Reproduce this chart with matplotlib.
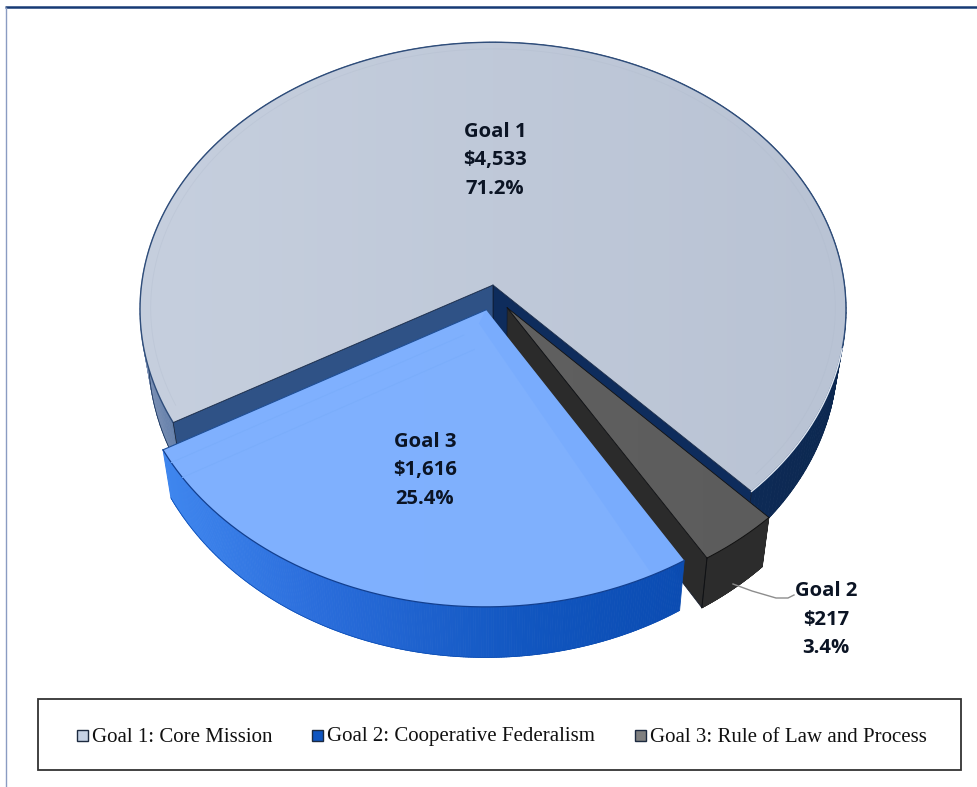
import numpy as np
import matplotlib
matplotlib.use("Agg")
import matplotlib.pyplot as plt
from matplotlib.colors import LinearSegmentedColormap
from matplotlib.patches import Polygon, Rectangle
from matplotlib.collections import PolyCollection

# Dollar amounts per goal, in pie order (clockwise)
goals = ["Goal 1", "Goal 2", "Goal 3"]
amounts = [4533, 217, 1616]
amount_labels = ["$4,533", "$217", "$1,616"]
share_labels = ["71.2%", "3.4%", "25.4%"]
legend_labels = [
    "Goal 1: Core Mission",
    "Goal 2: Cooperative Federalism",
    "Goal 3: Rule of Law and Process",
]

# Perspective set-up for the tilted disc, all in pixels
CX, CY = 493, 285
SCALE_X, SCALE_Y = 351.5, 265
TILT = 0.0916
DEPTH = 45.5
FLOOR_SHRINK = 0.976
START_ANGLE = 240.3


def project(u, v, lower=False):
    # disc coordinates -> pixel coordinates
    w = 1 + TILT * v
    x = CX + SCALE_X * u / w
    y = CY - SCALE_Y * v / w
    if lower:
        x = CX + (x - CX) * FLOOR_SHRINK
        y = y + DEPTH / w
    return x, y


def rim(a0, a1, offset=(0, 0), n=200):
    t = np.radians(np.linspace(a0, a1, n))
    return np.sin(t) + offset[0], np.cos(t) + offset[1]


def on_rim(angle, offset=(0, 0)):
    t = np.radians(angle)
    return np.sin(t) + offset[0], np.cos(t) + offset[1]


def quad(ax, p0, p1, color, z):
    # straight cut wall going from the wedge tip out to the rim
    xa, ya = project(*p0)
    xb, yb = project(*p1)
    xc, yc = project(*p1, lower=True)
    xd, yd = project(*p0, lower=True)
    ax.add_patch(Polygon([(xa, ya), (xb, yb), (xc, yc), (xd, yd)], closed=True,
                         fc=color, ec="#101a2c", lw=0.5, zorder=z))


def outer_wall(ax, a0, a1, offset, colors, stops, z):
    # curved outside wall, as thin strips shaded across the pixel width
    u, v = rim(a0, a1, offset, 240)
    x, y = project(u, v)
    xl, yl = project(u, v, lower=True)
    cmap = LinearSegmentedColormap.from_list("wall", list(zip(stops, colors)))
    lo, hi = x.min(), x.max()
    quads, faces = [], []
    for i in range(len(u) - 1):
        quads.append([(x[i], y[i]), (x[i + 1], y[i + 1]), (xl[i + 1], yl[i + 1]), (xl[i], yl[i])])
        faces.append(cmap((x[i] - lo) / (hi - lo)))
    ax.add_collection(PolyCollection(quads, facecolors=faces, edgecolors=faces, linewidths=0.6, zorder=z))
    ax.plot(xl, yl, color=colors[-1], lw=0.5, zorder=z)


def top_face(ax, a0, a1, offset, tip, colors, edge, z, lw=1.0):
    # flat top of a wedge, with a soft left-to-right shade
    u, v = rim(a0, a1, offset)
    x, y = project(u, v)
    tx, ty = project(*tip)
    xs = np.r_[tx, x]
    ys = np.r_[ty, y]
    patch = Polygon(np.c_[xs, ys], closed=True, fc="none", ec="none", zorder=z)
    ax.add_patch(patch)
    cmap = LinearSegmentedColormap.from_list("top", colors)
    grad = np.linspace(0, 1, 256).reshape(1, -1)
    img = ax.imshow(grad, cmap=cmap, extent=(xs.min(), xs.max(), ys.max(), ys.min()),
                    aspect="auto", zorder=z, interpolation="bilinear")
    img.set_clip_path(patch)
    ax.plot(x, y, color=edge, lw=lw, zorder=z + 0.1)


fig = plt.figure(figsize=(9.77, 7.87), dpi=100, facecolor="white")
ax = fig.add_axes([0, 0, 1, 1])
ax.axis("off")

# Wedge angles come straight from the amounts
spans = 360 * np.array(amounts) / sum(amounts)
ends = START_ANGLE + np.cumsum(spans)
starts = ends - spans

# Goal 1: main body of the pie
a0, a1 = starts[0], ends[0]
outer_wall(ax, a0, a1, (0, 0),
           ["#7f93b6", "#5d7aa6", "#24477c", "#0e2b59", "#0c2850"],
           [0, 0.06, 0.5, 0.8, 1], 1)
quad(ax, (0, 0), on_rim(a1), "#0e2c5c", 2)
quad(ax, (0, 0), on_rim(a0), "#2f5286", 2)
top_face(ax, a0, a1, (0, 0), (0, 0), ["#c6cfde", "#b9c3d4"], "#2f4d7a", 3)
for end_angle in (a0, a1):
    ax.plot(*zip(project(0, 0), project(*on_rim(end_angle))), color="#1b2f50", lw=0.6, zorder=3.1)
# Pale highlight where the lit top meets the dark wall
ax.plot(*project(*rim(a1 - 33, a1)), color="#dfe6f0", lw=1.0, zorder=3.2)
u, v = rim(a0 + 3, a1 - 3)
ax.plot(*project(u * 0.97, v * 0.97), color="#adb8ca", lw=0.6, alpha=0.3, zorder=3.2)

# Goal 2: the small pulled-out dark slice
off2 = (0.04, -0.085)
a0, a1 = starts[1], ends[1]
outer_wall(ax, a0, a1, off2, ["#2c2c2c", "#2c2c2c"], [0, 1], 4)
quad(ax, off2, on_rim(a1, off2), "#2b2b2b", 5)
top_face(ax, a0, a1, off2, off2, ["#606060", "#5c5c5c"], "#111111", 6, lw=0.7)
for end_angle in (a0, a1):
    ax.plot(*zip(project(*off2), project(*on_rim(end_angle, off2))), color="#111111", lw=0.6, zorder=6.2)
ax.plot(*zip(project(*on_rim(a1, off2)), project(*on_rim(a1, off2), lower=True)),
        color="#111111", lw=0.7, zorder=6)

# Goal 3: the large pulled-out blue slice
off3 = (-0.0197, -0.093)
a0, a1 = starts[2], ends[2]
outer_wall(ax, a0, a1, off3, ["#3f86ee", "#2a6ddb", "#1156c0", "#0b4cb2"], [0, 0.3, 0.7, 1], 7)
top_face(ax, a0, a1, off3, off3, ["#7fb1ff", "#80b0fd"], "#123f8f", 8, lw=0.9)

# Slightly deeper bevel down the right cut edge
side = [project(*off3), project(*on_rim(a0, off3)),
        project(*on_rim(a0 + 5.5, off3)),
        project(off3[0] - 0.02, off3[1] - 0.05)]
ax.add_patch(Polygon(side, closed=True, fc="#6ca5fd", ec="none", alpha=0.3, zorder=8.05))

# Faint bevel lines parallel to the left cut edge
t1 = np.radians(a1)
along = np.array([np.sin(t1), np.cos(t1)])
normal = np.array([-np.cos(t1), np.sin(t1)])
for n in (0.05, 0.11):
    p0 = np.array(off3) + normal * n + along * 0.1
    p1 = np.array(off3) + normal * n + along * np.sqrt(1 - n ** 2)
    ax.plot(*zip(project(*p0), project(*p1)), color="#7aadfb", lw=0.7, zorder=8.2)

# Crisp edge on the left cut of the blue slice
ax.plot(*zip(project(*off3), project(*on_rim(a1, off3))), color="#1f4f96", lw=0.8, zorder=8.3)

# Value labels
label_pos = [(495, 130), (826, 589), (425, 440)]
for name, amt, pct, (lx, ly) in zip(goals, amount_labels, share_labels, label_pos):
    for k, line in enumerate([name, amt, pct]):
        ax.text(lx, ly + 2 + 28.5 * k, line, ha="center", va="center", fontsize=14.6,
                fontweight="bold", family="Open Sans", color="#0b1424", zorder=10)

# Leader line for the small slice
ax.plot([733, 752, 776, 788, 794], [584, 591, 598, 598, 595], color="#8d8d8d", lw=1.0, zorder=9)

# Legend box along the bottom
ax.add_patch(Rectangle((38, 699), 923, 71, fc="white", ec="#333333", lw=1.3, zorder=1))
swatches = ["#c6d2e5", "#0f55c0", "#808080"]
swatch_x = [77, 312, 635]
text_x = [92, 327, 650]
for lab, col, sx, tx in zip(legend_labels, swatches, swatch_x, text_x):
    ax.add_patch(Rectangle((sx, 730), 11, 11, fc=col, ec="#1c2a40", lw=1.0, zorder=2))
    ax.text(tx, 737, lab, ha="left", va="center", fontsize=15.05,
            family="Liberation Serif", color="#111111", zorder=2)

# Page rules at the top and left
ax.plot([5, 977], [7, 7], color="#173a75", lw=1.8, solid_capstyle="butt")
ax.plot([5.5, 5.5], [7, 787], color="#8a9cc2", lw=1.0, solid_capstyle="butt")

ax.set_xlim(0, 977)
ax.set_ylim(787, 0)

fig.savefig("out.png", dpi=100)
plt.close(fig)
